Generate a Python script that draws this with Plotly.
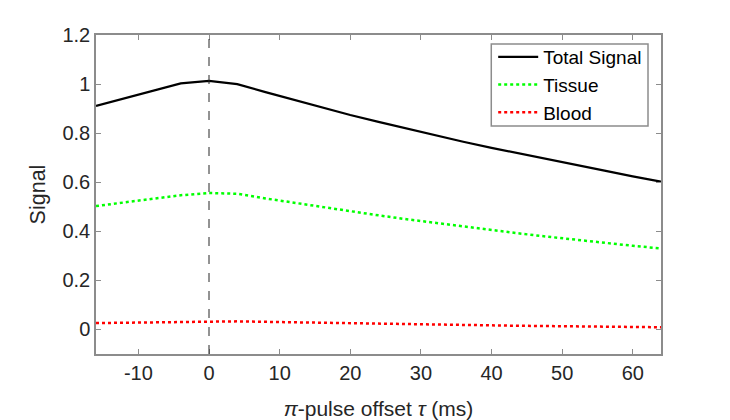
import plotly.graph_objects as go

tau = [-16, -12, -8, -4, 0, 4, 8, 12, 16, 20, 24, 28, 32, 36, 40, 44, 48, 52, 56, 60, 64]
total = [0.911, 0.941, 0.972, 1.003, 1.013, 1.0, 0.967, 0.935, 0.904, 0.874, 0.846, 0.818,
         0.791, 0.765, 0.740, 0.716, 0.692, 0.669, 0.647, 0.624, 0.602]
tissue = [0.503, 0.518, 0.533, 0.547, 0.556, 0.553, 0.534, 0.516, 0.498, 0.481, 0.465, 0.449,
          0.434, 0.419, 0.405, 0.391, 0.378, 0.365, 0.353, 0.341, 0.330]
blood = [0.026, 0.028, 0.030, 0.032, 0.034, 0.033, 0.031, 0.029, 0.027, 0.025, 0.023, 0.021,
         0.0195, 0.018, 0.0165, 0.015, 0.0138, 0.0126, 0.0115, 0.0103, 0.009]
xticks = [-10, 0, 10, 20, 30, 40, 50, 60]
xticklabels = ["-10", "0", "10", "20", "30", "40", "50", "60"]
yticks = [0, 0.2, 0.4, 0.6, 0.8, 1, 1.2]
yticklabels = ["0", "0.2", "0.4", "0.6", "0.8", "1", "1.2"]

FONT = "Liberation Sans, Arial, sans-serif"
AX = "#8c8c8c"
TXT = "#262626"

fig = go.Figure()
fig.add_trace(go.Scatter(x=tau, y=total, mode="lines", name="Total Signal", legendgroup="a",
                         line=dict(color="black", width=2.2)))
fig.add_trace(go.Scatter(x=tau, y=tissue, mode="lines", name="Tissue", legendgroup="b",
                         line=dict(color="#00ff00", width=2.5, dash="dot")))
fig.add_trace(go.Scatter(x=tau, y=blood, mode="lines", name="Blood", legendgroup="c",
                         line=dict(color="#ff0000", width=2.5, dash="dot")))

# vertical reference line at tau = 0
fig.add_shape(type="line", xref="x", yref="paper", x0=0, x1=0, y0=0, y1=1,
              line=dict(color="#262626", width=1, dash="dash"), layer="above")
# legend frame
fig.add_shape(type="rect", xref="paper", yref="paper", x0=0.6996, x1=0.977, y0=0.7147, y1=0.9718,
              line=dict(color=AX, width=1.5), fillcolor="white", layer="above")

axis_common = dict(showgrid=False, zeroline=False, showline=True, linecolor=AX, linewidth=1.5,
                   mirror="ticks", ticks="inside", ticklen=5, tickcolor=AX, tickwidth=1,
                   automargin=False,
                   tickfont=dict(family=FONT, size=20, color=TXT))

fig.update_xaxes(range=[-16, 64], tickvals=xticks, ticktext=xticklabels, **axis_common,
                 title=dict(text="<i>π</i>-pulse offset <i>τ</i> (ms)",
                            font=dict(family=FONT, size=21, color=TXT), standoff=22))
fig.update_yaxes(range=[-0.1, 1.2], tickvals=yticks, ticktext=yticklabels, **axis_common,
                 title=dict(text="Signal", font=dict(family=FONT, size=21.5, color=TXT), standoff=11))

fig.update_layout(
    width=722, height=412,
    margin=dict(l=88, r=69, t=27, b=66),
    paper_bgcolor="white", plot_bgcolor="white",
    showlegend=True,
    legend=dict(x=0.703, y=0.9906, xanchor="left", yanchor="top",
                bgcolor="rgba(0,0,0,0)", borderwidth=0,
                font=dict(family=FONT, size=19, color="black"),
                tracegroupgap=0, itemwidth=40),
    font=dict(family=FONT),
)

fig.write_html("out.html")
